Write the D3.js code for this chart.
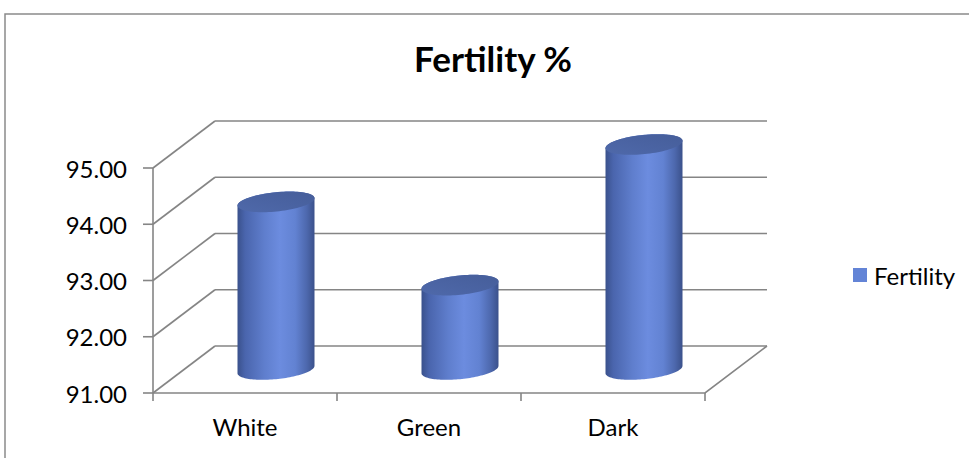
<!DOCTYPE html>
<html>
<head>
<meta charset="utf-8">
<script src="https://cdn.jsdelivr.net/npm/d3@7/dist/d3.min.js"></script>
<style>
  html, body { margin: 0; padding: 0; background: #fff; }
  svg { display: block; }
  text { font-family: Lato, "Open Sans", sans-serif; fill: #000; }
</style>
</head>
<body>
<div id="chart"></div>
<script>
// Fertility by egg-shell colour
const categories = ["White", "Green", "Dark"];
const fertility = [93.98, 92.5, 95.0];
const yTicks = [91, 92, 93, 94, 95];
const seriesName = "Fertility";
const chartTitle = "Fertility %";

const W = 969, H = 458;
const svg = d3.select("#chart").append("svg").attr("width", W).attr("height", H);

// Oblique 3-D box: front plane plus a depth offset to the back wall
const depthDX = 62, depthDY = -47;
const x = d3.scaleBand().domain(categories).range([153, 705]);
const y = d3.scaleLinear().domain([91, 95]).range([393, 168]);

const gridColor = "#858585";
const labelSize = 24;
const defs = svg.append("defs");

// Chart frame
svg.append("path")
  .attr("d", `M5,${H}V14H${W}`)
  .attr("fill", "none").attr("stroke", "#8a8a8a").attr("stroke-width", 1.5);

// Title
svg.append("text")
  .attr("x", 493).attr("y", 72)
  .attr("text-anchor", "middle")
  .attr("font-weight", "bold").attr("font-size", 35)
  .text(chartTitle);

const walls = svg.append("g").attr("stroke", gridColor).attr("stroke-width", 1.6).attr("fill", "none");

// Back-wall gridlines and side-wall diagonals
yTicks.forEach(v => {
  const yy = y(v);
  walls.append("line")
    .attr("x1", x.range()[0] + depthDX).attr("y1", yy + depthDY)
    .attr("x2", x.range()[1] + depthDX).attr("y2", yy + depthDY);
  walls.append("line")
    .attr("x1", x.range()[0]).attr("y1", yy)
    .attr("x2", x.range()[0] + depthDX).attr("y2", yy + depthDY);
});

// Floor: front and right edges
walls.append("path")
  .attr("d", `M${x.range()[0]},${y(91)}H${x.range()[1]}L${x.range()[1] + depthDX},${y(91) + depthDY}`);

// Value axis with ticks
walls.append("line")
  .attr("x1", x.range()[0]).attr("y1", y(95))
  .attr("x2", x.range()[0]).attr("y2", y(91));
yTicks.forEach(v => {
  walls.append("line")
    .attr("x1", x.range()[0] - 10).attr("y1", y(v))
    .attr("x2", x.range()[0]).attr("y2", y(v));
});

// Category ticks
const catEdges = categories.map(c => x(c)).concat([x.range()[1]]);
catEdges.forEach(cx => {
  walls.append("line")
    .attr("x1", cx).attr("y1", y(91))
    .attr("x2", cx).attr("y2", y(91) + 8);
});

// Value labels
svg.append("g").selectAll("text").data(yTicks).join("text")
  .attr("x", 127).attr("y", d => y(d))
  .attr("text-anchor", "end").attr("dominant-baseline", "central")
  .attr("font-size", labelSize)
  .text(d => d3.format(".2f")(d));

// Category labels
svg.append("g").selectAll("text").data(categories).join("text")
  .attr("x", d => x(d) + x.bandwidth() / 2).attr("y", 436)
  .attr("text-anchor", "middle")
  .attr("font-size", labelSize)
  .text(d => d);

// Cylinder shading
const bodyGrad = defs.append("linearGradient").attr("id", "cylBody")
  .attr("x1", 0).attr("x2", 1).attr("y1", 0).attr("y2", 0);
[[0, "#3a518c"], [0.1, "#4a65ad"], [0.35, "#5f7ecd"], [0.55, "#6c8cdf"], [0.75, "#6282d2"], [0.9, "#4d68ad"], [1, "#3b518b"]]
  .forEach(([o, c]) => bodyGrad.append("stop").attr("offset", o).attr("stop-color", c));
const topGrad = defs.append("linearGradient").attr("id", "cylTop")
  .attr("x1", 0).attr("x2", 1).attr("y1", 1).attr("y2", 0);
[[0, "#4f69aa"], [0.5, "#4a63a2"], [1, "#465e9a"]]
  .forEach(([o, c]) => topGrad.append("stop").attr("offset", o).attr("stop-color", c));

// Cylinder geometry: circle of radius r in the floor plane, depth radius as a fraction of the box depth
const r = 36, sDepth = 0.22;
const ex = sDepth * depthDX, ey = sDepth * depthDY;
const th0 = Math.atan2(ex, r);
function ePt(cx, cy, t) {
  return [cx + r * Math.cos(t) + ex * Math.sin(t), cy + ey * Math.sin(t)];
}
function arcPts(cx, cy, t1, t2, n) {
  const pts = [];
  for (let i = 0; i <= n; i++) pts.push(ePt(cx, cy, t1 + (t2 - t1) * i / n));
  return pts;
}

const bars = svg.append("g");
categories.forEach((c, i) => {
  const v = fertility[i];
  const cx = x(c) + x.bandwidth() / 2 + depthDX / 2;
  const yBase = y(91) + depthDY / 2;
  const yTop = y(v) + depthDY / 2;
  // body: bottom front half, right side, top back half, left side
  const bottom = arcPts(cx, yBase, Math.PI + th0, 2 * Math.PI + th0, 60);
  const topBack = arcPts(cx, yTop, th0, Math.PI + th0, 60);
  const body = bottom.concat(topBack);
  bars.append("path")
    .attr("d", d3.line()(body) + "Z")
    .attr("fill", "url(#cylBody)");
  const topE = arcPts(cx, yTop, 0, 2 * Math.PI, 90);
  bars.append("path")
    .attr("d", d3.line()(topE) + "Z")
    .attr("fill", "url(#cylTop)");
});

// Legend
const legend = svg.append("g");
legend.append("rect").attr("x", 853).attr("y", 268).attr("width", 14).attr("height", 14).attr("fill", "#6384d6");
legend.append("text").attr("x", 874).attr("y", 275)
  .attr("dominant-baseline", "central").attr("font-size", labelSize)
  .text(seriesName);
</script>
</body>
</html>
